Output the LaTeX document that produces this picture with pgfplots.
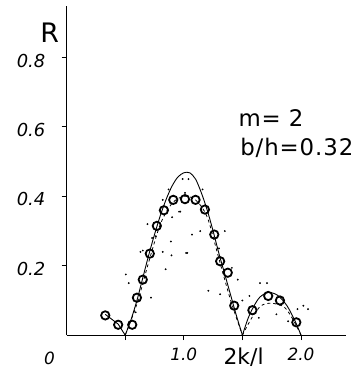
\documentclass[border=0pt]{standalone}
\usepackage{pgfplots}
\pgfplotsset{compat=1.18}
\usepackage{fontspec}
\setmainfont{DejaVu Sans}
\newfontfamily\annfont[LetterSpace=4]{DejaVu Sans}
\begin{document}
\begin{tikzpicture}[x=1pt,y=1pt]
\begin{axis}[
  scale only axis, width=281pt, height=332pt,
  xmin=0, xmax=2.38, ymin=0, ymax=0.95,
  axis lines=left, axis line style={-, line width=1.2pt},
  clip=false,
  xtick={0.5,1,1.5,2}, xticklabels={,1.0,,2.0},
  ytick={0.2,0.4,0.6,0.8}, yticklabels={0.2,0.4,0.6,0.8},
  tick align=outside, major tick length=5pt,
  tick style={line width=1pt, black},
  xticklabel style={yshift=-4pt, font=\fontsize{17}{17}\selectfont\itshape},
  yticklabel style={xshift=-13pt, yshift=-3pt, font=\fontsize{18}{18}\selectfont\itshape},
  /pgf/number format/assume math mode=true,
]
\path (axis cs:-0.568,-0.0914) rectangle (axis cs:2.49,0.966);
% theory solid
\addplot[black, line width=0.9pt] coordinates {(0.33,0.06) (0.44,0.032) (0.5,0.0)};
\addplot[black, line width=0.9pt, smooth] coordinates {
(0.5,0) (0.55,0.045) (0.6,0.10) (0.65,0.165) (0.7,0.23) (0.75,0.29) (0.8,0.345)
(0.85,0.392) (0.9,0.43) (0.95,0.456) (1.0,0.468) (1.05,0.468) (1.1,0.45)
(1.15,0.41) (1.2,0.36) (1.25,0.30) (1.3,0.235) (1.35,0.175) (1.4,0.115) (1.45,0.055) (1.5,0)};
\addplot[black, line width=0.9pt, smooth] coordinates {
(1.5,0) (1.55,0.05) (1.6,0.085) (1.65,0.11) (1.72,0.123) (1.8,0.115) (1.88,0.085) (1.95,0.04) (2.0,0)};
% dashed
\addplot[black, line width=0.8pt, dashed, smooth] coordinates {
(0.5,0) (0.6,0.09) (0.7,0.21) (0.8,0.32) (0.9,0.38) (1.0,0.40) (1.1,0.39)
(1.2,0.34) (1.3,0.22) (1.4,0.10) (1.5,0)};
\addplot[black, line width=0.8pt, dashed, smooth] coordinates {
(1.5,0) (1.58,0.05) (1.66,0.085) (1.75,0.092) (1.86,0.08) (1.94,0.04) (2.0,0)};
% experimental circles
\addplot[only marks, mark=o, mark size=4.2pt, mark options={line width=1.8pt, black}] coordinates {
(0.33,0.057) (0.44,0.03) (0.56,0.03) (0.60,0.108) (0.65,0.16) (0.71,0.235)
(0.77,0.315) (0.83,0.36) (0.91,0.39) (1.01,0.392) (1.10,0.39) (1.18,0.362)
(1.26,0.29) (1.31,0.213) (1.375,0.18) (1.43,0.085) (1.585,0.072) (1.72,0.113)
(1.82,0.10) (1.96,0.037)};
% scattered dots
\addplot[only marks, mark=*, mark size=0.7pt, black] coordinates {
(0.82,0.39) (0.90,0.34) (0.69,0.32) (0.76,0.285) (0.82,0.24) (0.895,0.23)
(0.63,0.24) (0.845,0.19) (0.505,0.175) (0.53,0.15) (0.72,0.108) (0.59,0.066)
(0.97,0.356) (1.07,0.29) (1.02,0.237) (1.21,0.128) (1.31,0.118) (1.35,0.30)
(1.41,0.194) (1.46,0.16) (1.50,0.10) (1.56,0.113) (1.65,0.15) (1.71,0.15)
(1.64,0.05) (1.79,0.06) (1.89,0.04) (2.02,0.085) (2.06,0.075) (1.97,0.075)
(0.99,0.45) (1.04,0.45) (0.87,0.42) (1.01,0.41) (1.16,0.42) (0.96,0.356)
(1.14,0.30) (0.89,0.27) (0.73,0.28) (0.65,0.244) (1.03,0.237) (1.30,0.25)};
% labels
\node[font=\fontsize{27}{27}\selectfont, anchor=center] at (axis cs:-0.145,0.872) {R};
\node[font=\fontsize{17}{17}\selectfont\itshape, anchor=center] at (axis cs:-0.145,-0.066) {0};
\node[font=\annfont\fontsize{23}{23}\selectfont, anchor=base west, inner sep=0pt] at (axis cs:1.465,0.60) {m= 2};
\node[font=\annfont\fontsize{23}{23}\selectfont, anchor=base west, inner sep=0pt] at (axis cs:1.48,0.517) {b/h=0.32};
\node[font=\fontsize{22}{22}\selectfont, anchor=center] at (axis cs:1.51,-0.064) {2k/l};
\end{axis}
\end{tikzpicture}
\end{document}
